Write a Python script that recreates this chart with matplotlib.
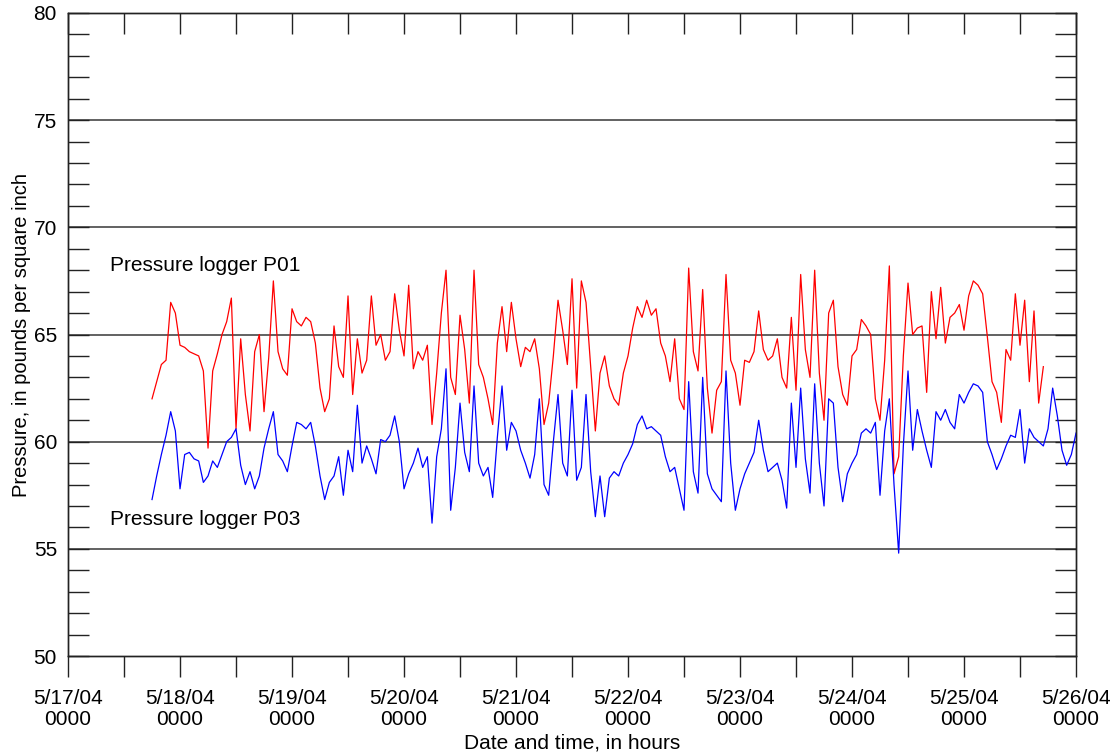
import pandas as pd
import matplotlib
matplotlib.use("Agg")
import matplotlib.pyplot as plt
import matplotlib.dates as mdates
from matplotlib.ticker import MultipleLocator, FuncFormatter

plt.rcParams['font.family'] = ['Liberation Sans', 'DejaVu Sans']

# Hourly pressure readings (psi)
p01_start = "2004-05-17 18:00"
p01_psi = [
    62.0, 62.8, 63.6, 63.8, 66.5, 66.0, 64.5, 64.4, 64.2, 64.1, 64.0, 63.3, 59.7, 63.3, 64.1, 65.0,
    65.6, 66.7, 60.6, 64.8, 62.2, 60.5, 64.2, 65.0, 61.4, 63.9, 67.5, 64.2, 63.4, 63.1, 66.2, 65.6,
    65.4, 65.8, 65.6, 64.6, 62.5, 61.4, 62.0, 65.4, 63.5, 63.0, 66.8, 62.2, 64.8, 63.2, 63.8, 66.8,
    64.5, 65.0, 63.8, 64.2, 66.9, 65.2, 64.0, 67.3, 63.4, 64.2, 63.8, 64.5, 60.8, 63.2, 66.0, 68.0, 63.0,
    62.2, 65.9, 64.3, 61.8, 68.0, 63.6, 63.0, 62.0, 60.8, 64.6, 66.3, 64.2, 66.5, 64.8, 63.5, 64.4,
    64.2, 64.8, 63.4, 60.8, 61.8, 64.0, 66.6, 65.2, 63.6, 67.6, 62.5, 67.5, 66.5, 63.5, 60.5, 63.2, 64.0, 62.6,
    62.0, 61.7, 63.2, 64.0, 65.3, 66.3, 65.8, 66.6, 65.9, 66.2, 64.6, 64.0, 62.8, 64.8, 62.0, 61.5,
    68.1, 64.2, 63.3, 67.1, 62.5, 60.4, 62.4, 62.8, 67.8, 63.8, 63.2, 61.7, 63.8, 63.7, 64.2, 66.1, 64.3,
    63.8, 64.0, 64.8, 63.0, 62.5, 65.8, 62.4, 67.8, 64.3, 63.0, 68.0, 63.2, 61.0, 66.0, 66.6, 63.5,
    62.2, 61.7, 64.0, 64.3, 65.7, 65.4, 65.0, 62.0, 61.0, 63.8, 68.2, 58.5, 59.3, 64.0, 67.4, 65.0, 65.3,
    65.4, 62.3, 67.0, 64.8, 67.2, 64.6, 65.8, 66.0, 66.4, 65.2, 66.8, 67.5, 67.3, 66.9, 64.9, 62.8,
    62.3, 60.9, 64.3, 63.8, 66.9, 64.5, 66.6, 62.8, 66.1, 61.8, 63.5,
]

p03_start = "2004-05-17 18:00"
p03_psi = [
    57.3, 58.4, 59.4, 60.3, 61.4, 60.5, 57.8, 59.4, 59.5, 59.2, 59.1, 58.1, 58.4, 59.1, 58.8, 59.4,
    60.0, 60.2, 60.6, 58.9, 58.0, 58.6, 57.8, 58.4, 59.7, 60.6, 61.4, 59.4, 59.1, 58.6, 59.8, 60.9,
    60.8, 60.6, 60.9, 59.8, 58.4, 57.3, 58.1, 58.4, 59.3, 57.5, 59.6, 58.6, 61.7, 59.0, 59.8, 59.2,
    58.5, 60.1, 60.0, 60.3, 61.2, 60.0, 57.8, 58.5, 59.0, 59.7, 58.8, 59.3, 56.2, 59.3, 60.6, 63.4, 56.8,
    58.8, 61.8, 59.5, 58.6, 62.6, 59.0, 58.4, 58.8, 57.4, 60.2, 62.6, 59.6, 60.9, 60.5, 59.6, 59.0,
    58.3, 59.4, 62.0, 58.0, 57.5, 60.0, 62.2, 59.0, 58.4, 62.4, 58.2, 58.8, 62.2, 58.6, 56.5, 58.4, 56.5, 58.3,
    58.6, 58.4, 59.0, 59.4, 59.9, 60.8, 61.2, 60.6, 60.7, 60.5, 60.3, 59.3, 58.6, 58.8, 57.8, 56.8,
    62.8, 58.6, 57.6, 63.0, 58.5, 57.8, 57.5, 57.2, 63.3, 59.0, 56.8, 57.8, 58.5, 59.0, 59.5, 61.0, 59.6,
    58.6, 58.8, 59.0, 58.2, 56.9, 61.8, 58.8, 62.5, 59.2, 57.6, 62.7, 59.0, 57.0, 62.0, 61.8, 58.8,
    57.2, 58.5, 59.0, 59.4, 60.4, 60.6, 60.4, 60.9, 57.5, 60.5, 62.0, 58.0, 54.8, 59.8, 63.3, 59.6, 61.5,
    60.5, 59.6, 58.8, 61.4, 61.0, 61.5, 60.9, 60.6, 62.2, 61.8, 62.3, 62.7, 62.6, 62.3, 60.0, 59.4,
    58.7, 59.2, 59.8, 60.3, 60.2, 61.5, 59.0, 60.6, 60.2, 60.0, 59.8, 60.6, 62.5, 61.2, 59.6, 58.9, 59.4, 60.4,
]

p01_time = pd.date_range(p01_start, periods=len(p01_psi), freq="h")
p03_time = pd.date_range(p03_start, periods=len(p03_psi), freq="h")

x_start = pd.Timestamp("2004-05-17 00:00")
x_end = pd.Timestamp("2004-05-26 00:00")

fig = plt.figure(figsize=(11.17, 7.55), dpi=100)
ax = fig.add_axes([0.0609, 0.1311, 0.9024, 0.8517])

# horizontal grid lines at the labelled pressures
for yv in [55, 60, 65, 70, 75]:
    ax.axhline(yv, color="#555555", lw=1.3, zorder=1)

ax.plot(p01_time, p01_psi, color="#ff0000", lw=0.9, zorder=3)
ax.plot(p03_time, p03_psi, color="#0000ff", lw=0.9, zorder=3)

ax.set_xlim(x_start, x_end)
ax.set_ylim(50, 80)

# y axis: labels every 5, ticks every 1, pointing in on both sides
ax.yaxis.set_major_locator(MultipleLocator(5))
ax.yaxis.set_minor_locator(MultipleLocator(1))
ax.tick_params(axis="y", which="both", direction="in", left=True, right=True,
               length=15, width=1, color="#222222", labelsize=15, pad=8)

# x axis: day labels, ticks every 12 hours pointing out
ax.xaxis.set_major_locator(mdates.DayLocator())
ax.xaxis.set_minor_locator(mdates.HourLocator(byhour=[12]))
ax.xaxis.set_major_formatter(FuncFormatter(
    lambda v, pos: "{d.month}/{d.day}/{d:%y}\n{d:%H%M}".format(d=mdates.num2date(v))))
ax.tick_params(axis="x", which="both", direction="out", length=15, width=1,
               color="#222222", labelsize=15, pad=9)
for lab in ax.get_xticklabels():
    lab.set_linespacing(1.12)

# top axis ticks pointing in
top = ax.twiny()
top.set_xlim(ax.get_xlim())
top.xaxis.set_major_locator(mdates.HourLocator(byhour=[0, 12]))
top.tick_params(axis="x", direction="in", length=15, width=1, color="#222222",
                labeltop=False)

for a in (ax, top):
    for sp in a.spines.values():
        sp.set_color("#222222")
        sp.set_linewidth(1)

ax.set_xlabel("Date and time, in hours", fontsize=15, labelpad=3)
ax.set_ylabel("Pressure, in pounds per square inch", fontsize=14.5, labelpad=2)

ax.text(pd.Timestamp("2004-05-17 09:00"), 68.2, "Pressure logger P01",
        fontsize=15, va="center", ha="left")
ax.text(pd.Timestamp("2004-05-17 09:00"), 56.35, "Pressure logger P03",
        fontsize=15, va="center", ha="left")

fig.savefig("out.png", dpi=100, facecolor="white")
